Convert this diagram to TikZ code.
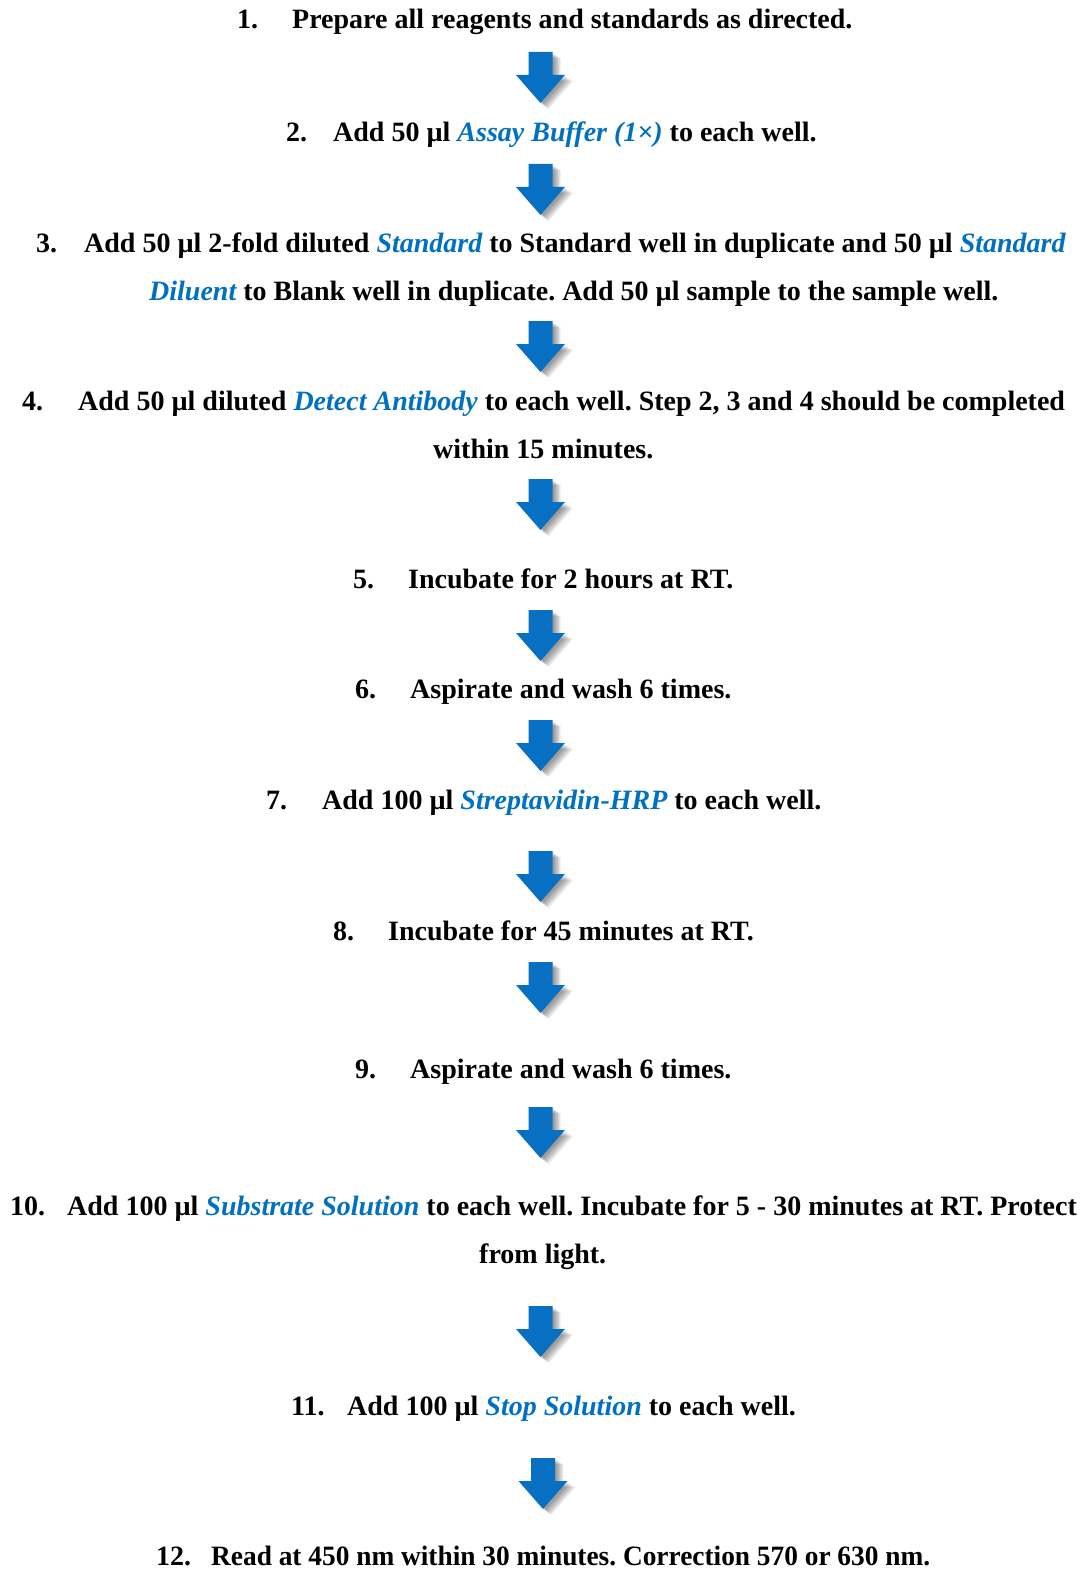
\documentclass[tikz,border=0pt]{standalone}
\usepackage{graphicx}
\usepackage{fontspec}
\setmainfont{Liberation Serif}
\frenchspacing
\definecolor{stepblue}{RGB}{0,112,192}
\definecolor{arrowblue}{RGB}{8,112,194}
\newcommand{\hl}[1]{\textcolor{stepblue}{\itshape #1}}
\tikzset{
  txt/.style={anchor=base west, inner sep=0pt, font=\fontsize{28}{34}\selectfont\bfseries},
  barrow/.pic={
    \foreach \dx/\dy in {2/2,3.5/3,5/4,6.5/5,8/6}{
      \fill[black, opacity=0.09, shift={(\dx,\dy)}]
        (-12,0) -- (12,0) -- (12,23) -- (24.5,23) -- (0,51) -- (-24.5,23) -- (-12,23) -- cycle;
    }
    \fill[arrowblue] (-12,0) -- (12,0) -- (12,23) -- (24.5,23) -- (0,51) -- (-24.5,23) -- (-12,23) -- cycle;
  }
}
\begin{document}
\begin{tikzpicture}[x=1pt,y=-1pt]
\useasboundingbox[fill=white] (0,0) rectangle (1083,1570);

% step 1
\node[txt] (n1) at (237,29) {1.};
\node[txt] (t1) at (292,29) {Prepare all reagents and standards as directed.};
% step 2
\node[txt] (n2) at (286,142) {2.};
\node[txt] (t2) at (333,142) {Add 50 µl \hl{Assay Buffer (1×)} to each well.};
% step 3
\node[txt] (n3) at (36,252) {3.};
\node[txt] (t3) at (84,252) {Add 50 µl 2-fold diluted \hl{Standard} to Standard well in duplicate and 50 µl \hl{Standard}};
\node[txt] (t3b) at (149,300) {\hl{Diluent} to Blank well in duplicate. Add 50 µl sample to the sample well.};
% step 4
\node[txt] (n4) at (22,410) {4.};
\node[txt] (t4) at (78,410) {Add 50 µl diluted \hl{Detect Antibody} to each well. Step 2, 3 and 4 should be completed};
\node[txt] (t4b) at (433,458) {within 15 minutes.};
% step 5
\node[txt] (n5) at (353,588) {5.};
\node[txt] (t5) at (408,588) {Incubate for 2 hours at RT.};
% step 6
\node[txt] (n6) at (355,698) {6.};
\node[txt] (t6) at (410,698) {Aspirate and wash 6 times.};
% step 7
\node[txt] (n7) at (266,809) {7.};
\node[txt] (t7) at (322,809) {Add 100 µl \hl{Streptavidin-HRP} to each well.};
% step 8
\node[txt] (n8) at (333,940) {8.};
\node[txt] (t8) at (388,940) {Incubate for 45 minutes at RT.};
% step 9
\node[txt] (n9) at (355,1078) {9.};
\node[txt] (t9) at (410,1078) {Aspirate and wash 6 times.};
% step 10
\node[txt] (n10) at (10,1215) {10.};
\node[txt] (t10) at (67,1215) {Add 100 µl \hl{Substrate Solution} to each well. Incubate for 5 - 30 minutes at RT. Protect};
\node[txt] (t10b) at (479,1263) {from light.};
% step 11
\node[txt] (n11) at (291,1415) {11.};
\node[txt] (t11) at (347,1415) {Add 100 µl \hl{Stop Solution} to each well.};
% step 12
\node[txt] (n12) at (156,1565) {12.};
\node[txt] (t12) at (211,1565) {\resizebox{719pt}{\height}{Read at 450 nm within 30 minutes. Correction 570 or 630 nm.}};

% arrows
\foreach \x/\y in {540.5/52,540.5/164,540.5/321,540.5/479,540.5/610,540.5/720,540.5/851,540.5/962,540.5/1107,540.5/1306,543/1458}{
  \pic at (\x,\y) {barrow};
}
\end{tikzpicture}
\end{document}
